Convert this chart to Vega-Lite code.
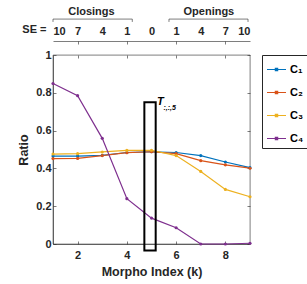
{
  "$schema": "https://vega.github.io/schema/vega-lite/v6.json",
  "width": 197,
  "height": 189,
  "autosize": {"type": "none"},
  "padding": {"left": 53, "top": 55, "right": 57, "bottom": 40},
  "background": "white",
  "config": {
    "font": "Liberation Sans",
    "view": {"stroke": "#262626", "strokeWidth": 0.6},
    "axis": {
      "grid": false,
      "domainColor": "#262626",
      "domainWidth": 0.6,
      "tickColor": "#262626",
      "tickWidth": 0.6,
      "tickSize": -3,
      "labelFont": "Liberation Sans",
      "labelFontWeight": "bold",
      "labelFontSize": 11,
      "labelColor": "#262626",
      "titleFont": "Liberation Sans",
      "titleFontWeight": "bold",
      "titleFontSize": 12.5,
      "titleColor": "#262626"
    }
  },
  "datasets": {
    "ratios": [
      {"k": 1, "ratio": 0.465, "series": "C₁"},
      {"k": 2, "ratio": 0.465, "series": "C₁"},
      {"k": 3, "ratio": 0.469, "series": "C₁"},
      {"k": 4, "ratio": 0.484, "series": "C₁"},
      {"k": 5, "ratio": 0.488, "series": "C₁"},
      {"k": 6, "ratio": 0.484, "series": "C₁"},
      {"k": 7, "ratio": 0.468, "series": "C₁"},
      {"k": 8, "ratio": 0.434, "series": "C₁"},
      {"k": 9, "ratio": 0.404, "series": "C₁"},
      {"k": 1, "ratio": 0.452, "series": "C₂"},
      {"k": 2, "ratio": 0.453, "series": "C₂"},
      {"k": 3, "ratio": 0.468, "series": "C₂"},
      {"k": 4, "ratio": 0.483, "series": "C₂"},
      {"k": 5, "ratio": 0.488, "series": "C₂"},
      {"k": 6, "ratio": 0.478, "series": "C₂"},
      {"k": 7, "ratio": 0.441, "series": "C₂"},
      {"k": 8, "ratio": 0.419, "series": "C₂"},
      {"k": 9, "ratio": 0.401, "series": "C₂"},
      {"k": 1, "ratio": 0.476, "series": "C₃"},
      {"k": 2, "ratio": 0.478, "series": "C₃"},
      {"k": 3, "ratio": 0.487, "series": "C₃"},
      {"k": 4, "ratio": 0.495, "series": "C₃"},
      {"k": 5, "ratio": 0.496, "series": "C₃"},
      {"k": 6, "ratio": 0.468, "series": "C₃"},
      {"k": 7, "ratio": 0.384, "series": "C₃"},
      {"k": 8, "ratio": 0.289, "series": "C₃"},
      {"k": 9, "ratio": 0.25, "series": "C₃"},
      {"k": 1, "ratio": 0.849, "series": "C₄"},
      {"k": 2, "ratio": 0.785, "series": "C₄"},
      {"k": 3, "ratio": 0.559, "series": "C₄"},
      {"k": 4, "ratio": 0.24, "series": "C₄"},
      {"k": 5, "ratio": 0.137, "series": "C₄"},
      {"k": 6, "ratio": 0.086, "series": "C₄"},
      {"k": 7, "ratio": 0.0, "series": "C₄"},
      {"k": 8, "ratio": 0.0, "series": "C₄"},
      {"k": 9, "ratio": 0.004, "series": "C₄"}
    ],
    "brackets": [
      {"group": "Closings", "i": 1, "k": 1, "y": 1.175},
      {"group": "Closings", "i": 2, "k": 1, "y": 1.19},
      {"group": "Closings", "i": 3, "k": 4.22, "y": 1.19},
      {"group": "Closings", "i": 4, "k": 4.22, "y": 1.175},
      {"group": "Openings", "i": 1, "k": 5.71, "y": 1.175},
      {"group": "Openings", "i": 2, "k": 5.71, "y": 1.19},
      {"group": "Openings", "i": 3, "k": 8.92, "y": 1.19},
      {"group": "Openings", "i": 4, "k": 8.92, "y": 1.175}
    ],
    "labels": [
      {"text": "SE =", "k": 0.245, "y": 1.132},
      {"text": "Closings", "k": 2.56, "y": 1.228},
      {"text": "Openings", "k": 7.33, "y": 1.228}
    ],
    "box": [
      {"k1": 4.71, "k2": 5.17, "y1": -0.035, "y2": 0.75}
    ],
    "tensor": [
      {"main": "T", "sub": ":,:,5", "k": 5.36, "y": 0.75, "ks": 5.74, "ys": 0.722}
    ]
  },
  "resolve": {
    "scale": {"x": "independent", "y": "independent"},
    "axis": {"x": "independent", "y": "independent"}
  },
  "layer": [
    {
      "data": {"name": "ratios"},
      "mark": {"type": "line", "strokeWidth": 1.2, "point": {"filled": true, "size": 10}},
      "encoding": {
        "x": {
          "field": "k", "type": "quantitative",
          "scale": {"domain": [1, 9], "nice": false, "zero": false},
          "axis": {"orient": "bottom", "values": [2, 4, 6, 8], "title": "Morpho Index (k)", "labelPadding": 8, "titlePadding": 5}
        },
        "y": {
          "field": "ratio", "type": "quantitative",
          "scale": {"domain": [0, 1], "nice": false, "zero": false},
          "axis": {"orient": "left", "values": [0, 0.2, 0.4, 0.6, 0.8, 1], "format": "~g", "title": "Ratio", "labelPadding": 5, "titlePadding": 5}
        },
        "color": {
          "field": "series", "type": "nominal",
          "scale": {"domain": ["C₁", "C₂", "C₃", "C₄"], "range": ["#0072BD", "#D95319", "#EDB120", "#7E2F8E"]},
          "legend": {
            "orient": "right", "offset": 9, "title": null, "padding": 4,
            "strokeColor": "#262626", "fillColor": "white",
            "labelFont": "Liberation Sans", "labelFontWeight": "bold", "labelFontSize": 11, "labelColor": "#000000",
            "rowPadding": 7, "labelOffset": 3,
            "symbolType": "M-1,0H1M-0.12,-0.12H0.12V0.12H-0.12Z",
            "symbolSize": 361, "symbolStrokeWidth": 1.2
          }
        }
      }
    },
    {
      "data": {"name": "box"},
      "mark": {"type": "rect", "fill": null, "fillOpacity": 0, "stroke": "#000000", "strokeWidth": 2, "clip": false},
      "encoding": {
        "x": {"field": "k1", "type": "quantitative", "scale": {"domain": [1, 9], "nice": false, "zero": false},
          "axis": {"orient": "top", "values": [2, 4, 6, 8], "labels": false, "domain": false, "title": null}},
        "x2": {"field": "k2"},
        "y": {"field": "y1", "type": "quantitative", "scale": {"domain": [0, 1], "nice": false, "zero": false},
          "axis": {"orient": "right", "values": [0, 0.2, 0.4, 0.6, 0.8, 1], "labels": false, "domain": false, "title": null}},
        "y2": {"field": "y2"}
      }
    },
    {
      "data": {"name": "brackets"},
      "mark": {"type": "line", "stroke": "#262626", "strokeWidth": 0.6, "clip": false},
      "encoding": {
        "x": {"field": "k", "type": "quantitative", "scale": {"domain": [1, 9], "nice": false, "zero": false},
          "axis": {"orient": "top", "offset": 14, "values": [2, 4, 6, 8], "labels": false, "title": null}},
        "y": {"field": "y", "type": "quantitative", "scale": {"domain": [0, 1], "nice": false, "zero": false}, "axis": null},
        "detail": {"field": "group"},
        "order": {"field": "i"}
      }
    },
    {
      "data": {"name": "labels"},
      "mark": {"type": "text", "font": "Liberation Sans", "fontWeight": "bold", "fontSize": 11, "color": "#262626"},
      "encoding": {
        "x": {"field": "k", "type": "quantitative", "scale": {"domain": [1, 9], "nice": false, "zero": false},
          "axis": {"orient": "top", "offset": 14, "values": [1, 2, 3, 4, 5, 6, 7, 8, 9], "ticks": false, "domain": false, "title": null, "labelPadding": 5,
            "labelExpr": "['10','7','4','1','0','1','4','7','10'][datum.value - 1]"}},
        "y": {"field": "y", "type": "quantitative", "scale": {"domain": [0, 1], "nice": false, "zero": false}, "axis": null},
        "text": {"field": "text"}
      }
    },
    {
      "data": {"name": "tensor"},
      "mark": {"type": "text", "font": "Liberation Sans", "fontStyle": "italic", "fontWeight": "bold", "fontSize": 11, "color": "#000000"},
      "encoding": {
        "x": {"field": "k", "type": "quantitative", "scale": {"domain": [1, 9], "nice": false, "zero": false}, "axis": null},
        "y": {"field": "y", "type": "quantitative", "scale": {"domain": [0, 1], "nice": false, "zero": false}, "axis": null},
        "text": {"field": "main"}
      }
    },
    {
      "data": {"name": "tensor"},
      "mark": {"type": "text", "font": "Liberation Sans", "fontStyle": "italic", "fontWeight": "bold", "fontSize": 7, "color": "#000000"},
      "encoding": {
        "x": {"field": "ks", "type": "quantitative", "scale": {"domain": [1, 9], "nice": false, "zero": false}, "axis": null},
        "y": {"field": "ys", "type": "quantitative", "scale": {"domain": [0, 1], "nice": false, "zero": false}, "axis": null},
        "text": {"field": "sub"}
      }
    }
  ]
}
